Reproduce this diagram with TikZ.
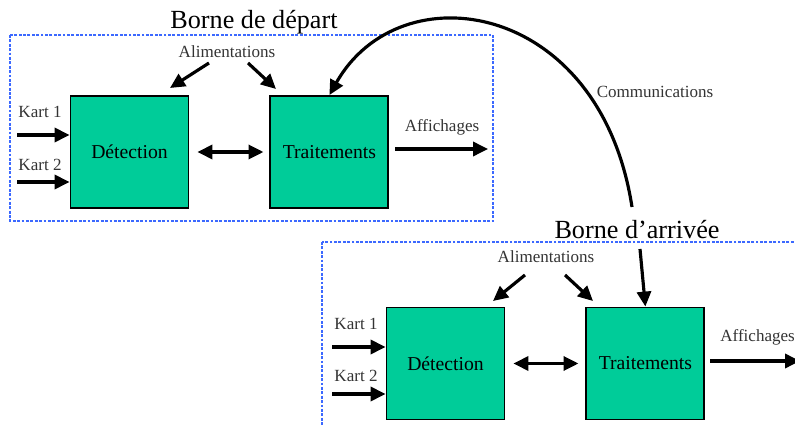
\documentclass[tikz,border=0pt]{standalone}
\usepackage{fontspec}
\setmainfont{Liberation Serif}
\usepackage{tikz}
\usetikzlibrary{positioning}
\usetikzlibrary{arrows.meta}

\definecolor{boxgreen}{RGB}{0,204,153}
\definecolor{borneblue}{RGB}{60,105,255}

\begin{document}
\begin{tikzpicture}[
        x = 0.02cm,
        y = -0.02cm,
        bloc/.style = {
            draw,
            fill = boxgreen,
            line width = 1.1pt,
            minimum width = 2.36cm,
            minimum height = 2.24cm,
            inner sep = 0pt,
            font = \fontsize{11.2}{13}\selectfont
        },
        petit/.style = {
            inner sep = 0pt,
            font = \fontsize{9.7}{11}\selectfont,
            text = black!80
        },
        titre/.style = {
            inner sep = 0pt,
            font = \fontsize{14.9}{17}\selectfont
        },
        borne/.style = {
            draw = borneblue,
            dash pattern = on 1.6pt off 0.9pt,
            line width = 1.6pt
        },
        fleche/.style = {
            line width = 1.8pt,
            -{Triangle[length=8.5pt, width=8pt]}
        },
        dfleche/.style = {
            line width = 1.8pt,
            {Triangle[length=8.5pt, width=8pt]}-{Triangle[length=8.5pt, width=8pt]}
        }
        ]
        \clip (0,0) rectangle (795,425);
% 
% Borne de depart
        \draw[borne] (10,35) rectangle (493,221);
        \node[titre] (titre1) at (254,22) {Borne de départ};
% 
        \node[bloc] (det1) at (129.5,152) {Détection};
        \node[bloc, right=1.6cm of det1] (trt1) {Traitements};
% 
        \node[petit] (alim1) at (227,52) {Alimentations};
        \node[petit] (kart11) at (40,112) {Kart 1};
        \node[petit] (kart12) at (40,165) {Kart 2};
        \node[petit] (aff1) at (442,127) {Affichages};
% 
        \coordinate (k11) at (17,135);
        \coordinate (k12) at (17,182);
        \coordinate (a11) at (209,63);
        \coordinate (a12) at (248,63);
        \coordinate (b11) at (170,88);
        \coordinate (b12) at (276,89);
        \coordinate (s1) at (395,149);
        \coordinate (e1) at (488,149);
% 
        \draw[fleche] (k11) -- (k11 -| det1.west);
        \draw[fleche] (k12) -- (k12 -| det1.west);
        \draw[fleche] (a11) -- (b11);
        \draw[fleche] (a12) -- (b12);
        \draw[dfleche, shorten <=0.16cm, shorten >=0.12cm] (det1.east) -- (trt1.west);
        \draw[fleche] (s1) -- (e1);
% 
% Borne d'arrivee
        \draw[borne] (322,242) rectangle (810,440);
        \node[titre] (titre2) at (637,230) {Borne d’arrivée};
% 
        \node[bloc] (det2) at (445.5,363.5) {Détection};
        \node[bloc, right=1.6cm of det2] (trt2) {Traitements};
% 
        \node[petit] (alim2) at (546,257) {Alimentations};
        \node[petit] (kart21) at (356,324) {Kart 1};
        \node[petit] (kart22) at (356,376) {Kart 2};
        \node[petit, anchor=west] (aff2) at (720,337) {Affichages};
% 
        \coordinate (k21) at (332,347);
        \coordinate (k22) at (332,394);
        \coordinate (a21) at (525,275);
        \coordinate (a22) at (565,275);
        \coordinate (b21) at (493,301);
        \coordinate (b22) at (593,301);
        \coordinate (s2) at (710,361);
        \coordinate (e2) at (800,361);
% 
        \draw[fleche] (k21) -- (k21 -| det2.west);
        \draw[fleche] (k22) -- (k22 -| det2.west);
        \draw[fleche] (a21) -- (b21);
        \draw[fleche] (a22) -- (b22);
        \draw[dfleche, shorten <=0.16cm, shorten >=0.14cm] (det2.east) -- (trt2.west);
        \draw[fleche] (s2) -- (e2);
% 
% Communications
        \node[petit] (comm) at (655,92) {Communications};
        \coordinate (c1) at (632,207);
        \coordinate (c2) at (640,249);
        \draw[fleche] (c1) .. controls (600,0) and (400,-30) .. (trt1.north);
        \draw[fleche] (c2) -- (trt2.north);
    \end{tikzpicture}
\end{document}
